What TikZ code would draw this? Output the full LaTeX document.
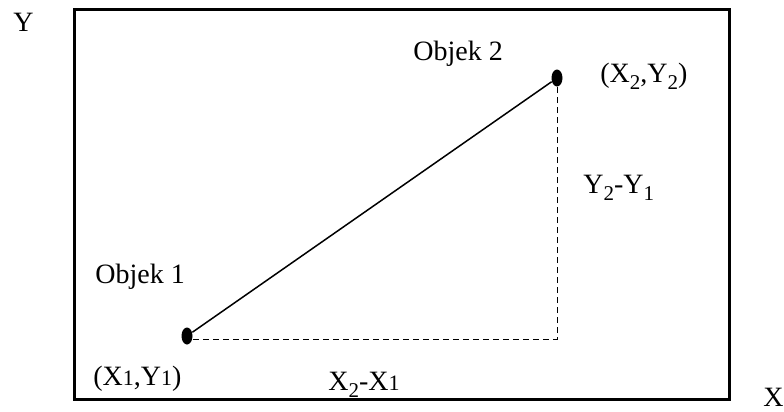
\documentclass[tikz,border=0pt]{standalone}
\usepackage{fontspec}
\setmainfont{Liberation Serif}
\usetikzlibrary{shapes.geometric}
\newcommand{\lsub}[1]{\raisebox{-3.5pt}{\fontsize{10.5pt}{10.5pt}\selectfont #1}}
\newcommand{\nsub}[1]{{\fontsize{11pt}{11pt}\selectfont #1}}
\tikzset{
  lbl/.style={anchor=base west, inner sep=0pt, font=\fontsize{14pt}{16pt}\selectfont},
  dotnode/.style={ellipse, fill=black, inner sep=0pt, minimum width=5.5pt, minimum height=8.5pt},
  frame/.style={line width=1.5pt},
  dist/.style={dash pattern=on 3pt off 2pt, line width=0.5pt}
}

\begin{document}
\begin{tikzpicture}[x=0.5pt,y=-0.5pt]
\useasboundingbox (0,0) rectangle (784,412);
%FRAME
\draw[frame] (74,9) rectangle (729,399);
%OBJECTS
\node[dotnode] (obj1) at (187,336) {};
\node[dotnode] (obj2) at (557,78) {};
\coordinate (corner) at (557,339);
%LABELS
\node[lbl] (ylbl) at (13,32) {Y};
\node[lbl] (xlbl) at (763,407) {X};
\node[lbl] (name2) at (413,61) {Objek 2};
\node[lbl] (pos2) at (600,83) {(X\lsub{2},Y\lsub{2})};
\node[lbl] (dy) at (583,193) {Y\lsub{2}-Y\lsub{1}};
\node[lbl] (name1) at (95,283) {Objek 1};
\node[lbl] (pos1) at (93,386) {(X\nsub{1},Y\nsub{1})};
\node[lbl] (dx) at (328,390) {X\lsub{2}-X\nsub{1}};
%LINES
\draw[line width=0.75pt] (obj1) -- (obj2);
\draw[dist] (obj1.east |- corner) -- (corner) -- (obj2.south);
\end{tikzpicture}
\end{document}
